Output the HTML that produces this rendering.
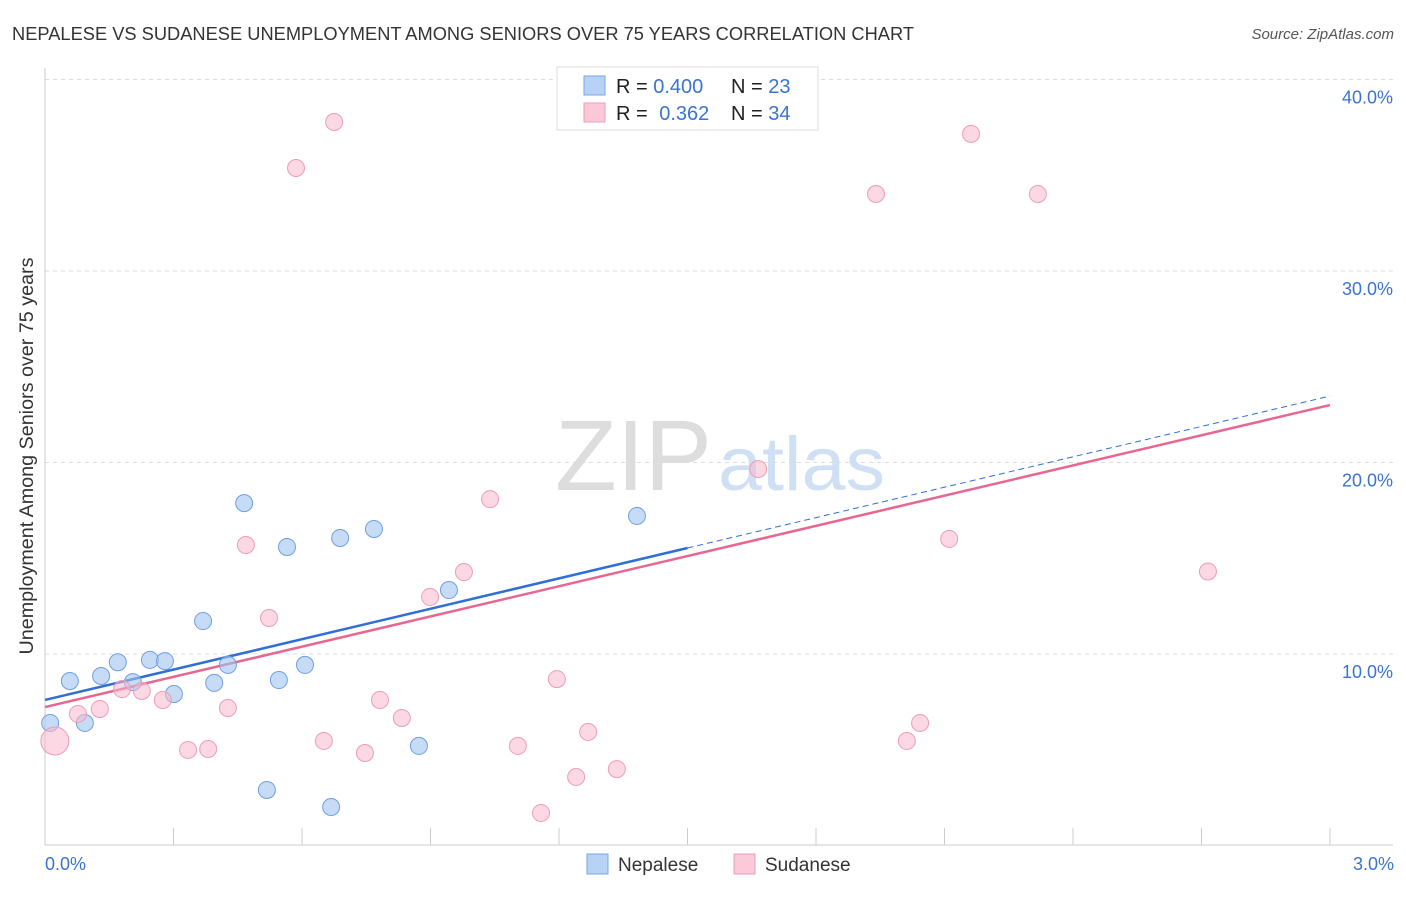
<!DOCTYPE html>
<html><head><meta charset="utf-8"><style>
body{margin:0;background:#fff;font-family:"Liberation Sans",sans-serif;}
svg text{font-family:"Liberation Sans",sans-serif;}
</style></head><body>
<svg id="chart" width="1406" height="892" xmlns="http://www.w3.org/2000/svg">
<text x="12" y="40" font-size="18" fill="#333" textLength="902" lengthAdjust="spacingAndGlyphs">NEPALESE VS SUDANESE UNEMPLOYMENT AMONG SENIORS OVER 75 YEARS CORRELATION CHART</text>
<text x="1394" y="39" font-size="15" fill="#555" font-style="italic" text-anchor="end">Source: ZipAtlas.com</text>
<text x="555" y="490" font-size="100" fill="#ddd" textLength="157" lengthAdjust="spacingAndGlyphs" font-family="Liberation Serif">ZIP</text>
<text x="718" y="490" font-size="76" fill="#cfe0f5" textLength="167" lengthAdjust="spacingAndGlyphs">atlas</text>
<g id="grid"></g>
<g id="axes"></g>
<g id="lines"></g>
<g id="points"></g>
<text transform="translate(33,456) rotate(-90)" font-size="19" fill="#333" text-anchor="middle" textLength="397" lengthAdjust="spacingAndGlyphs">Unemployment Among Seniors over 75 years</text>
<text x="45" y="870" font-size="18" fill="#3b73d1">0.0%</text>
<text x="1394" y="870" font-size="18" fill="#3b73d1" text-anchor="end">3.0%</text>
<g>
<rect x="557" y="67" width="261" height="63" fill="#fff" stroke="#ddd"/>
<rect x="584" y="76" width="21" height="19" fill="#b8d2f5" stroke="#7aa6e6"/>
<rect x="584" y="103" width="21" height="19" fill="#fbc9d7" stroke="#ee9db5"/>
<text x="616" y="93" font-size="20" fill="#222">R = <tspan fill="#3b73d1">0.400</tspan></text>
<text x="731" y="93" font-size="20" fill="#222">N = <tspan fill="#3b73d1">23</tspan></text>
<text x="616" y="120" font-size="20" fill="#222">R = <tspan fill="#3b73d1" dx="6">0.362</tspan></text>
<text x="731" y="120" font-size="20" fill="#222">N = <tspan fill="#3b73d1">34</tspan></text>
</g>
<g>
<rect x="587" y="854" width="21" height="20" fill="#b8d2f5" stroke="#7aa6e6"/>
<text x="618" y="871" font-size="19" fill="#333">Nepalese</text></g>
<g>
<rect x="734" y="854" width="21" height="20" fill="#fbc9d7" stroke="#ee9db5"/>
<text x="765" y="871" font-size="19" fill="#333">Sudanese</text></g>
</svg>
<script>
const yTicks=[10,20,30,40];
const nepX=[0.012,0.058,0.093,0.131,0.170,0.205,0.245,0.280,0.301,0.369,0.395,0.427,0.465,0.518,0.546,0.565,0.607,0.668,0.689,0.768,0.873,0.943,1.382];
const nepY=[6.40,8.59,6.40,8.85,9.57,8.53,9.69,9.63,7.91,11.72,8.49,9.43,17.88,2.90,8.64,15.59,9.43,2.01,16.06,16.53,5.20,13.34,17.21];
const sudX=[0.023,0.077,0.128,0.180,0.226,0.275,0.334,0.381,0.427,0.469,0.523,0.586,0.651,0.675,0.747,0.782,0.833,0.899,0.978,1.039,1.104,1.158,1.195,1.240,1.268,1.335,1.665,1.940,2.012,2.043,2.111,2.162,2.318,2.715];
const sudY=[5.46,6.87,7.13,8.17,8.07,7.60,4.99,5.04,7.18,15.69,11.88,35.38,5.46,37.78,4.83,7.60,6.66,12.98,14.28,18.09,5.20,1.70,8.69,3.58,5.93,3.99,19.66,34.02,5.46,6.40,16.01,37.16,34.02,14.31];
const sudR=[14,8.5,8.5,8.5,8.5,8.5,8.5,8.5,8.5,8.5,8.5,8.5,8.5,8.5,8.5,8.5,8.5,8.5,8.5,8.5,8.5,8.5,8.5,8.5,8.5,8.5,8.5,8.5,8.5,8.5,8.5,8.5,8.5,8.5];
const nepTrend=[7.60,23.47];
const sudTrend=[7.23,23.0];
const NS="http://www.w3.org/2000/svg";
const xs=v=>45+v*1285/3, ys=v=>845.5-v*19.15;
function mk(t,a,p){const e=document.createElementNS(NS,t);for(const k in a)e.setAttribute(k,a[k]);document.getElementById(p).appendChild(e);return e;}
yTicks.forEach(t=>{
 const l=mk('line',{x1:45,x2:1393,y1:ys(t),y2:ys(t),stroke:'#ddd','stroke-dasharray':'4,4'},'grid');
 
 
 const tx=mk('text',{x:1393,y:ys(t)+24,'font-size':18,fill:'#3b73d1','text-anchor':'end'},'grid');
 tx.textContent=t.toFixed(1)+'%';
 
 
});
const ax=mk('line',{x1:45,x2:1393,y1:845,y2:845,stroke:'#ccc'},'axes');


const ay=mk('line',{x1:45,x2:45,y1:68,y2:845,stroke:'#ccc'},'axes');


for(let i=1;i<=10;i++){const tk=mk('line',{x1:xs(i*0.3),x2:xs(i*0.3),y1:828,y2:845,stroke:'#ccc'},'axes');
 
 }
function trend(v,c,solidTo,name){
 const f=x=>v[0]+(v[1]-v[0])*x/3;
 const a=mk('line',{x1:xs(0),y1:ys(f(0)),x2:xs(solidTo),y2:ys(f(solidTo)),stroke:c,'stroke-width':2.5},'lines');
 
 
 if(solidTo<3){const b=mk('line',{x1:xs(solidTo),y1:ys(f(solidTo)),x2:xs(3),y2:ys(f(3)),stroke:c,'stroke-width':1,'stroke-dasharray':'6,4'},'lines');
 
 }
}
trend(nepTrend,'#2f6fd6',1.5,'nepalese-trend-line');
trend(sudTrend,'#e8668f',3,'sudanese-trend-line');
nepX.forEach((x,i)=>{const c=mk('circle',{cx:xs(x),cy:ys(nepY[i]),r:8.5,fill:'rgba(160,196,240,0.6)',stroke:'#6f9fe0','stroke-width':1},'points');
 
 });
sudX.forEach((x,i)=>{const c=mk('circle',{cx:xs(x),cy:ys(sudY[i]),r:sudR[i],fill:'rgba(248,184,204,0.55)',stroke:'#ee9db5','stroke-width':1},'points');
 
 });
</script>
</body></html>
